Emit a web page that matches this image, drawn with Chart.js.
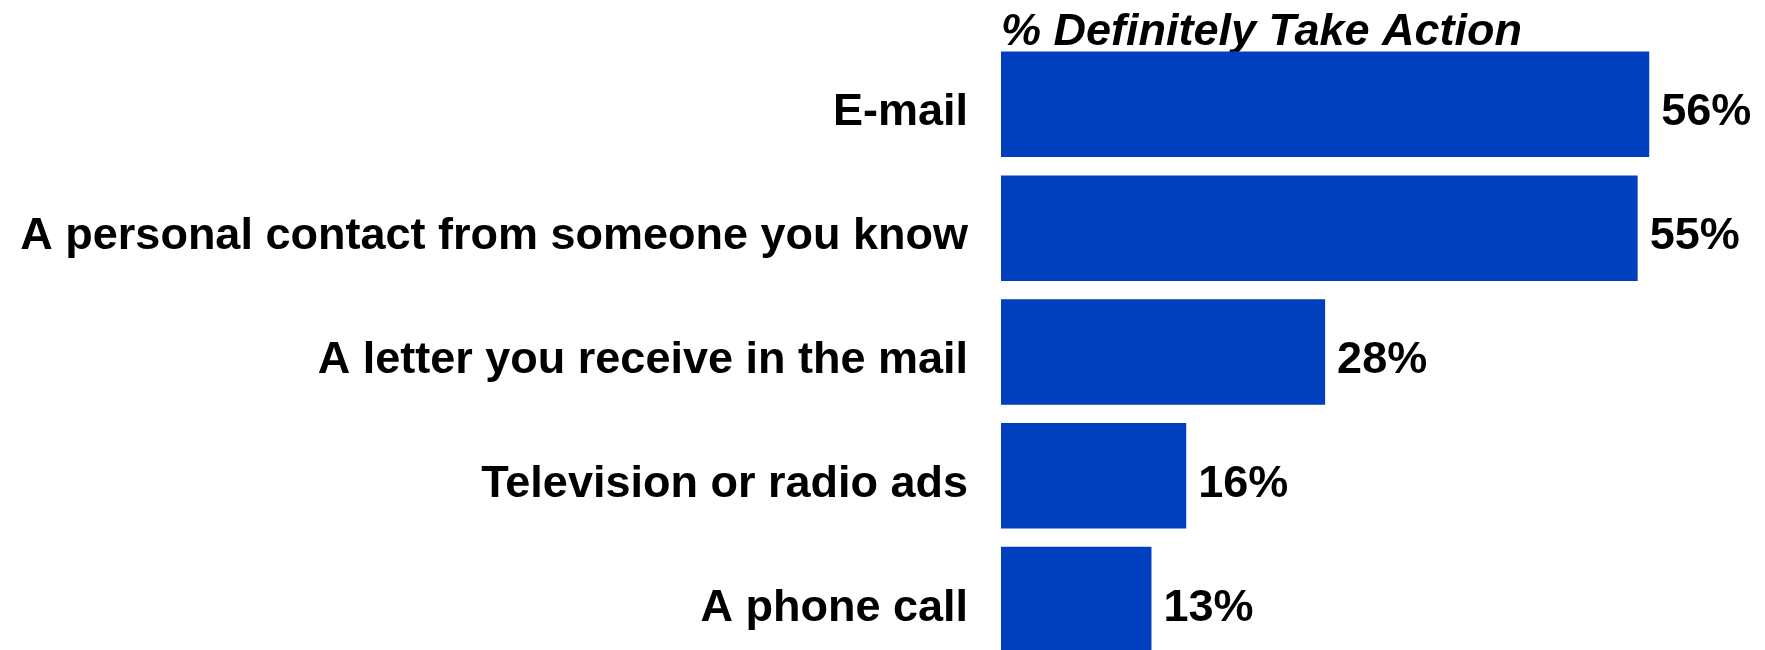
<!DOCTYPE html>
<html>
<head>
<meta charset="utf-8">
<script src="https://cdn.jsdelivr.net/npm/chart.js@4.4.1/dist/chart.umd.min.js"></script>
<style>
  html, body { margin: 0; padding: 0; background: #ffffff; overflow: hidden; }
  #wrap { position: relative; width: 1765px; height: 662px; }
</style>
</head>
<body>
<div id="wrap"><canvas id="chart"></canvas></div>
<script>
// Channels and the share who would definitely take action
const categories = [
  'E-mail',
  'A personal contact from someone you know',
  'A letter you receive in the mail',
  'Television or radio ads',
  'A phone call'
];
const definitelyTakeAction = [56, 55, 28, 16, 13];
const chartTitle = '% Definitely Take Action';

const FONT = "'Liberation Sans', Arial, Helvetica, sans-serif";
const BAR_BLUE = '#0040BF';

// Writes the percentage just past the end of each bar
const valueLabels = {
  id: 'valueLabels',
  afterDatasetsDraw(chart) {
    const { ctx } = chart;
    const meta = chart.getDatasetMeta(0);
    const values = chart.data.datasets[0].data;
    ctx.save();
    ctx.font = `bold 45px ${FONT}`;
    ctx.fillStyle = '#000000';
    ctx.textAlign = 'left';
    ctx.textBaseline = 'middle';
    meta.data.forEach((bar, i) => {
      ctx.fillText(values[i] + '%', bar.x + 12, bar.y + 8.5);
    });
    ctx.restore();
  }
};

new Chart(document.getElementById('chart'), {
  type: 'bar',
  data: {
    labels: categories,
    datasets: [{
      data: definitelyTakeAction,
      backgroundColor: BAR_BLUE,
      borderWidth: 0,
      categoryPercentage: 1.0,
      barPercentage: 0.852
    }]
  },
  options: {
    indexAxis: 'y',
    responsive: true,
    maintainAspectRatio: false,
    animation: false,
    layout: { padding: { top: 0, right: 0, bottom: 0.5, left: 0 } },
    plugins: {
      legend: { display: false },
      tooltip: { enabled: false },
      title: {
        display: true,
        text: chartTitle,
        align: 'start',
        fullSize: false,
        color: '#000000',
        font: { family: FONT, size: 45, weight: 'bold', style: 'italic', lineHeight: 0.4 },
        padding: { top: 23.5, bottom: 0.95 }
      }
    },
    scales: {
      x: {
        display: false,
        min: 0,
        max: 66
      },
      y: {
        grid: { display: false, drawTicks: false },
        border: { display: false },
        ticks: {
          color: '#000000',
          padding: 33,
          labelOffset: 8.5,
          font: { family: FONT, size: 45, weight: 'bold' }
        },
        afterFit(scale) {
          // fixed axis width; the category labels sit inside their bands,
          // so no extra room is reserved above or below the plot
          scale.width = 1001;
          scale.paddingTop = 0;
          scale.paddingBottom = 0;
        }
      }
    }
  },
  plugins: [valueLabels]
});
</script>
</body>
</html>
